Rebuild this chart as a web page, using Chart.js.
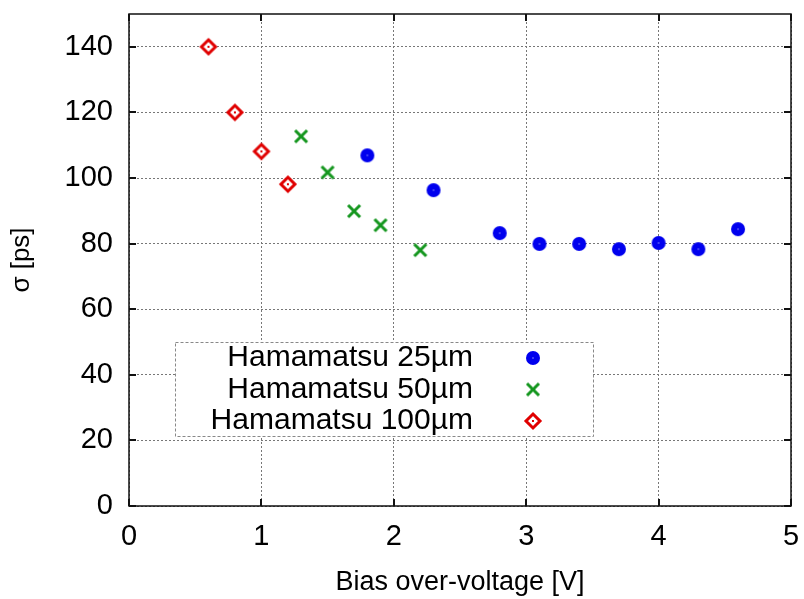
<!DOCTYPE html>
<html>
<head>
<meta charset="utf-8">
<script src="https://cdn.jsdelivr.net/npm/chart.js@4"></script>
<style>
  html, body { margin: 0; padding: 0; background: #fff; }
  #wrap { width: 804px; height: 599px; position: relative; }
</style>
</head>
<body>
<div id="wrap"><canvas id="sigmaChart"></canvas></div>
<script>
// data
var seriesLabels = ['Hamamatsu 25\u00b5m', 'Hamamatsu 50\u00b5m', 'Hamamatsu 100\u00b5m'];

var bias25 = [1.8, 2.3, 2.8, 3.1, 3.4, 3.7, 4.0, 4.3, 4.6];
var sigma25 = [106.9, 96.3, 83.2, 79.9, 79.9, 78.3, 80.2, 78.3, 84.4];

var bias50 = [1.3, 1.5, 1.7, 1.9, 2.2];
var sigma50 = [112.7, 101.7, 89.9, 85.6, 78.0];

var bias100 = [0.6, 0.8, 1.0, 1.2];
var sigma100 = [140.0, 120.0, 108.1, 98.1];

var xTicks = [0, 1, 2, 3, 4, 5];
var yTicks = [0, 20, 40, 60, 80, 100, 120, 140];

const FONT = "'Liberation Sans', Arial, sans-serif";

// marker images (gnuplot-like)
function makeMarker(kind, color) {
    let c = document.createElement('canvas')
    c.width = 20; c.height = 20
    let g = c.getContext('2d')
    g.translate(10, 10)
    if (kind === 'circle') {
        g.fillStyle = color
        g.beginPath(); g.arc(0, 0, 7, 0, Math.PI * 2); g.fill()
        g.fillStyle = '#fff'
        g.fillRect(-0.5, -0.5, 1, 1)
    } else if (kind === 'cross') {
        g.strokeStyle = color
        g.lineWidth = 3
        g.beginPath()
        g.moveTo(-6, -6); g.lineTo(6, 6)
        g.moveTo(6, -6); g.lineTo(-6, 6)
        g.stroke()
    } else {
        g.strokeStyle = color
        g.lineWidth = 3
        g.fillStyle = '#fff'
        g.beginPath()
        g.moveTo(0, -7); g.lineTo(7, 0); g.lineTo(0, 7); g.lineTo(-7, 0); g.closePath()
        g.fill(); g.stroke()
        g.fillStyle = color
        g.fillRect(-1, -1, 2, 2)
    }
    return c
}

var markers = [
    makeMarker('circle', '#0000ee'),
    makeMarker('cross', '#14961e'),
    makeMarker('diamond', '#e00000')
]

function toPoints(xs, ys) {
    return xs.map((x, i) => ({x: x, y: ys[i]}))
}

// frame, inward ticks and the boxed legend
const framePlugin = {
    id: 'framePlugin',
    afterDraw(chart) {
        const ctx = chart.ctx
        const a = chart.chartArea
        const xs = chart.scales.x, ys = chart.scales.y
        ctx.save()
        ctx.strokeStyle = '#111'
        ctx.lineWidth = 1.5
        ctx.strokeRect(a.left, a.top, a.right - a.left, a.bottom - a.top)
        ctx.beginPath()
        yTicks.forEach(v => {
            let p = Math.round(ys.getPixelForValue(v))
            ctx.moveTo(a.left, p); ctx.lineTo(a.left + 7, p)
            ctx.moveTo(a.right, p); ctx.lineTo(a.right - 7, p)
        })
        xTicks.forEach(v => {
            let p = Math.round(xs.getPixelForValue(v))
            ctx.moveTo(p, a.bottom); ctx.lineTo(p, a.bottom - 7)
            ctx.moveTo(p, a.top); ctx.lineTo(p, a.top + 7)
        })
        ctx.lineWidth = 2
        ctx.stroke()

        // legend box
        let bx = a.left + 46, by = 342, bw = 418, bh = 94
        ctx.fillStyle = '#fff'
        ctx.fillRect(bx, by, bw, bh)
        ctx.setLineDash([3, 2])
        ctx.strokeStyle = '#888'
        ctx.lineWidth = 1
        ctx.strokeRect(bx + 0.5, by + 0.5, bw, bh)
        ctx.setLineDash([])
        ctx.font = '30px ' + FONT
        ctx.fillStyle = '#000'
        ctx.textAlign = 'right'
        ctx.textBaseline = 'middle'
        chart.data.datasets.forEach((ds, i) => {
            let ry = by + 16 + i * 31.5
            ctx.fillText(ds.label, bx + 298, ry)
            ctx.drawImage(ds.pointStyle, bx + 358 - 10, ry - 10)
        })
        ctx.restore()
    }
}

new Chart(document.querySelector('#sigmaChart'), {
    type: 'scatter',
    data: {
        datasets: [{
            label: seriesLabels[0],
            data: toPoints(bias25, sigma25),
            pointStyle: markers[0],
            backgroundColor: '#0000ee',
            borderColor: '#0000ee'
        }, {
            label: seriesLabels[1],
            data: toPoints(bias50, sigma50),
            pointStyle: markers[1],
            backgroundColor: '#14961e',
            borderColor: '#14961e'
        }, {
            label: seriesLabels[2],
            data: toPoints(bias100, sigma100),
            pointStyle: markers[2],
            backgroundColor: '#e00000',
            borderColor: '#e00000'
        }]
    },
    options: {
        responsive: true,
        maintainAspectRatio: false,
        animation: false,
        events: [],
        layout: {
            padding: {left: 0, right: 13, top: 14, bottom: 0}
        },
        scales: {
            x: {
                type: 'linear',
                min: 0,
                max: 5,
                afterBuildTicks: (scale) => {
                    scale.ticks = xTicks.map(v => ({value: v}))
                },
                afterFit: (scale) => {
                    scale.height = 93
                    scale.paddingLeft = 0
                    scale.paddingRight = 0
                },
                ticks: {
                    color: '#000',
                    font: {family: FONT, size: 29},
                    padding: 14,
                    maxRotation: 0
                },
                grid: {
                    color: '#777',
                    lineWidth: 1,
                    drawTicks: false
                },
                border: {display: false, dash: [2, 2]},
                title: {
                    display: true,
                    text: 'Bias over-voltage [V]',
                    color: '#000',
                    font: {family: FONT, size: 27},
                    padding: {bottom: 0, top: 0}
                }
            },
            y: {
                type: 'linear',
                min: 0,
                max: 150,
                afterBuildTicks: (scale) => {
                    scale.ticks = yTicks.map(v => ({value: v}))
                },
                afterFit: (scale) => {
                    scale.width = 129
                    scale.paddingTop = 0
                    scale.paddingBottom = 0
                },
                ticks: {
                    color: '#000',
                    font: {family: FONT, size: 29},
                    padding: 16
                },
                grid: {
                    color: '#777',
                    lineWidth: 1,
                    drawTicks: false
                },
                border: {display: false, dash: [2, 2]},
                title: {
                    display: true,
                    text: '\u03c3 [ps]',
                    color: '#000',
                    font: {family: FONT, size: 26},
                    padding: {top: 6, bottom: 0}
                }
            }
        },
        plugins: {
            legend: {display: false},
            tooltip: {enabled: false}
        }
    },
    plugins: [framePlugin]
});
</script>
</body>
</html>
